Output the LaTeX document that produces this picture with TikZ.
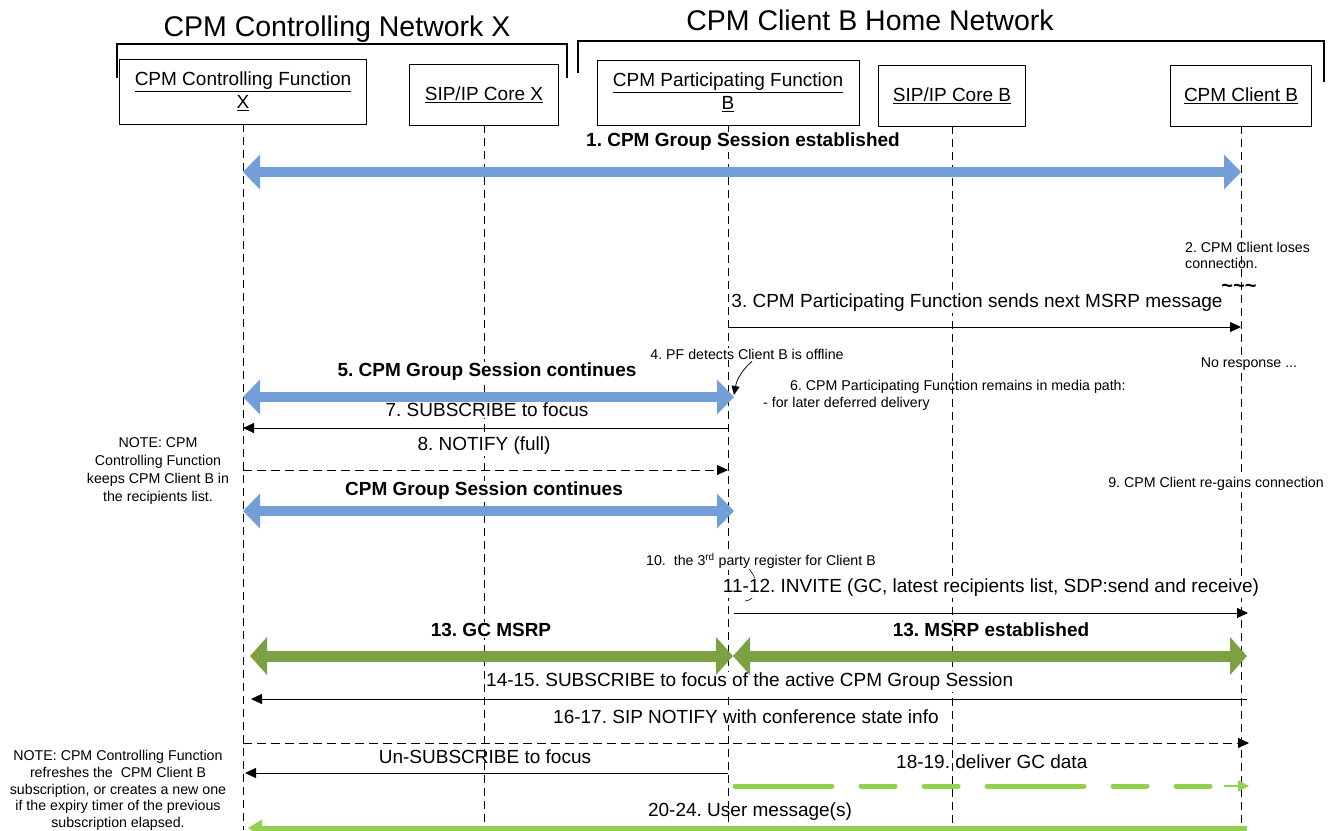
\documentclass[tikz,border=0pt]{standalone}
\usepackage{fontspec}
\setmainfont{Liberation Sans}
\usetikzlibrary{arrows.meta,calc}
\definecolor{lblue}{RGB}{114,159,216}
\definecolor{ogreen}{RGB}{124,160,66}
\definecolor{lgreen}{RGB}{146,208,80}
\frenchspacing
\begin{document}
\begin{tikzpicture}[x=1pt,y=-1pt,
 box/.style={draw,line width=0.8pt,align=center,font=\fontsize{19}{23}\selectfont,inner sep=0pt},
 life/.style={line width=0.7pt,dash pattern=on 8pt off 5pt},
 msg/.style={font=\fontsize{19}{22}\selectfont,inner sep=1pt,fill=white},
 msgn/.style={font=\fontsize{19}{22}\selectfont,inner sep=1pt},
 bmsg/.style={font=\bfseries\fontsize{19}{22}\selectfont,inner sep=1pt,fill=white},
 note/.style={font=\fontsize{14.2}{17.7}\selectfont,inner sep=0pt,align=center},
 title/.style={font=\fontsize{28.5}{31}\selectfont,inner sep=0pt},
 tarrow/.style={line width=0.8pt,-{Triangle[length=11pt,width=10pt]}},
 darrow/.style={tarrow,dash pattern=on 9pt off 5pt},
 bluearrow/.style={draw=lblue,line width=10pt,{Triangle[length=17pt,width=34pt]}-{Triangle[length=17pt,width=34pt]}},
 greenarrow/.style={draw=ogreen,line width=11pt,{Triangle[length=17pt,width=37pt]}-{Triangle[length=17pt,width=37pt]}},
]
\useasboundingbox (0,0) rectangle (1336,830);
\fill[white] (0,0) rectangle (1336,830);

% titles and brackets
\node[title] (t1) at (337,29) {CPM Controlling Network X};
\node[title] (t2) at (870,20) {CPM Client B Home Network};
\draw[line width=1.2pt] (117,78) -- (117,44) -- (567,44) -- (567,78);
\draw[line width=1.2pt] (578,73) -- (578,41) -- (1324,41) -- (1324,82);

% participant boxes
\node[box,minimum width=247pt,minimum height=65pt] (cf) at (243,91.5) {\underline{CPM Controlling Function}\\\underline{X}};
\node[box,minimum width=149pt,minimum height=61pt] (sx) at (484,94.5) {\underline{SIP/IP Core X}};
\node[box,minimum width=262pt,minimum height=65pt] (pf) at (728,92.5) {\underline{CPM Participating Function}\\\underline{B}};
\node[box,minimum width=147pt,minimum height=61pt] (sb) at (952,95.5) {\underline{SIP/IP Core B}};
\node[box,minimum width=141pt,minimum height=61pt] (cl) at (1241,95.5) {\underline{CPM Client B}};

% lifelines
\foreach \n in {cf,sx,pf,sb,cl} \draw[life] (\n.south) -- (\n.south |- 0,830);

% labels
\node[bmsg] (l1) at (743,142) {1. CPM Group Session established};
\node[note,align=left,anchor=west,font=\fontsize{14.2}{16}\selectfont] (l2) at (1185,255) {2. CPM Client loses\\connection.};
\node[font=\bfseries\fontsize{20}{22}\selectfont,inner sep=0pt] (l2t) at (1239,288) {\textasciitilde\textasciitilde\textasciitilde};
\node[msg] (l3) at (977,303) {3. CPM Participating Function sends next MSRP message};
\node[note,fill=white,inner sep=1pt] (l4) at (747,354) {4. PF detects Client B is offline};
\node[note,fill=white,inner sep=1pt] (lnr) at (1249,364) {No response ...};
\node[bmsg] (l5) at (487,372) {5. CPM Group Session continues};
\node[note,anchor=west] (l6a) at (790,387) {6. CPM Participating Function remains in media path:};
\node[note,anchor=west] (l6b) at (763,404) {- for later deferred delivery};
\node[msg] (l7) at (487,410) {7. SUBSCRIBE to focus};
\node[msg] (l8) at (484,446) {8. NOTIFY (full)};
\node[note] (n1) at (158,471) {NOTE: CPM\\Controlling Function\\keeps CPM Client B in\\the recipients list.};
\node[bmsg] (lgs) at (484,491) {CPM Group Session continues};
\node[note,anchor=east,fill=white,inner sep=1pt] (l9) at (1325,484) {9. CPM Client re-gains connection};
\node[note,anchor=west,fill=white,inner sep=1pt] (l10) at (645,561) {10.\ \ the 3\textsuperscript{rd} party register for Client B};
\draw[line width=0.6pt] (749,569) .. controls (762,584) and (757,600) .. (745,601);
\node[msg] (l11) at (991,588) {11-12. INVITE (GC, latest recipients list, SDP:send and receive)};
\node[bmsg] (l13a) at (491,630) {13. GC MSRP};
\node[bmsg] (l13b) at (991,630) {13. MSRP established};
\node[msg,anchor=west] (l14) at (485,682) {14-15. SUBSCRIBE to focus of the active CPM Group Session};
\node[msg,anchor=west] (l16) at (552,717) {16-17. SIP NOTIFY with conference state info};
\node[note,font=\fontsize{14.2}{16.75}\selectfont] (n2) at (118,790.5) {NOTE: CPM Controlling Function\\refreshes the~ CPM Client B\\subscription, or creates a new one\\if the expiry timer of the previous\\subscription elapsed.};
\node[msgn] (lun) at (485,757) {Un-SUBSCRIBE to focus};
\node[msgn,anchor=west] (l18) at (895,762) {18-19. deliver GC data};
\node[msgn] (l20) at (750,812) {20-24. User message(s)};

% connectors
\draw[bluearrow] (cf |- 0,172) -- (cl |- 0,172);
\draw[tarrow] (pf |- 0,327) -- (cl |- 0,327);
\draw[line width=0.8pt,-{Triangle[length=9pt,width=8pt]}] ($(l4.south)+(5,1)$) .. controls (744,368) and (737,378) .. ($(pf |- 0,395)+(6,0)$);
\draw[bluearrow] (cf |- 0,397) -- ($(pf |- 0,397)+(6,0)$);
\draw[tarrow] (pf |- 0,428) -- (cf |- 0,428);
\draw[darrow] (cf |- 0,470) -- (pf |- 0,470);
\draw[bluearrow] (cf |- 0,511) -- ($(pf |- 0,511)+(6,0)$);
\draw[tarrow] ($(pf |- 0,613)+(6,0)$) -- ($(cl |- 0,613)+(7,0)$);
\draw[greenarrow] ($(cf |- 0,656)+(7,0)$) -- ($(pf |- 0,656)+(5,0)$);
\draw[greenarrow] ($(pf |- 0,656)+(5,0)$) -- ($(cl |- 0,656)+(6,0)$);
\draw[tarrow] ($(cl |- 0,699)+(6,0)$) -- ($(cf |- 0,699)+(8,0)$);
\draw[darrow] (cf |- 0,743) -- ($(cl |- 0,743)+(8,0)$);
\draw[tarrow] (pf |- 0,773) -- ($(cf |- 0,773)+(2,0)$);
\draw[lgreen,line width=5pt,line cap=round,dash pattern=on 97pt off 29pt on 34pt off 29pt on 34pt off 29pt] ($(pf |- 0,786)+(7,0)$) -- ($(cl |- 0,786)+(-31,0)$);
\draw[lgreen,line width=1.2pt,-{Triangle[length=11pt,width=11pt]}] ($(cl |- 0,786)+(-17,0)$) -- ($(cl |- 0,786)+(8,0)$);
\draw[lgreen,line width=5pt,-{Triangle[length=14pt,width=16pt]}] ($(cl |- 0,828)+(6,0)$) -- ($(cf |- 0,828)+(5,0)$);
\end{tikzpicture}
\end{document}
